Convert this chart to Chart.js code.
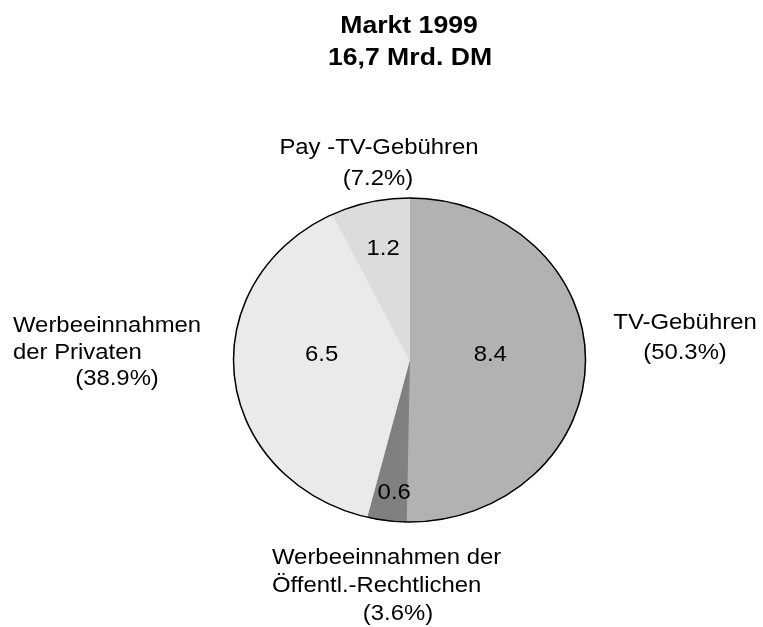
<!DOCTYPE html>
<html>
<head>
<meta charset="utf-8">
<script src="https://cdn.jsdelivr.net/npm/chart.js@4/dist/chart.umd.min.js"></script>
<style>
  html, body { margin: 0; padding: 0; background: #fff; }
  #wrap { width: 763px; height: 627px; }
</style>
</head>
<body>
<div id="wrap"><canvas id="pie"></canvas></div>
<script>
/* ── data ── */
const titleLines = ['Markt 1999', '16,7 Mrd. DM'];
const categories = [
    ['TV-Gebühren'],
    ['Werbeeinnahmen der', 'Öffentl.-Rechtlichen'],
    ['Werbeeinnahmen', 'der Privaten'],
    ['Pay -TV-Gebühren']
];
const values = [8.4, 0.6, 6.5, 1.2];
const sliceColors = ['#b2b2b2', '#808080', '#eaeaea', '#dcdcdc'];

/* ── look ── */
const SQUASH = 162 / 176;   // pie is a slightly flattened ellipse
const TEXT_SX = 1.086;      // text is stretched the same way horizontally
const FONT = '"Liberation Sans", Arial, sans-serif';

// value labels inside: radial fraction + angle nudge (deg)
const innerPos = [
    {f: 0.46, a: -4.4},
    {f: 0.825, a: -1.5},
    {f: 0.50, a: 9.6},
    {f: 0.70, a: 0.6}
];
// category labels outside
const outerPos = [
    {x: 685, y: 329, lh: 29.5, align: 'center', px: 685},
    {x: 272, y: 564, lh: 28, align: 'left', px: 398},
    {x: 13, y: 332, lh: 26.5, align: 'left', px: 117},
    {x: 379, y: 154, lh: 31, align: 'center', px: 378}
];

function stretchedText(ctx, txt, x, y, align) {
    ctx.save();
    ctx.translate(x, y);
    ctx.scale(TEXT_SX, 1);
    ctx.textAlign = align;
    ctx.fillText(txt, 0, 0);
    ctx.restore();
}

const ellipsePie = {
    id: 'ellipsePie',
    beforeDatasetsDraw(chart) {
        const a = chart.getDatasetMeta(0).data[0];
        const ctx = chart.ctx;
        ctx.save();
        ctx.translate(a.x, a.y);
        ctx.scale(1, SQUASH);
        ctx.translate(-a.x, -a.y);
    },
    afterDatasetsDraw(chart) {
        const ctx = chart.ctx;
        ctx.restore();
        const arcs = chart.getDatasetMeta(0).data;
        const cx = arcs[0].x, cy = arcs[0].y, r = arcs[0].outerRadius;

        // outline
        ctx.save();
        ctx.beginPath();
        ctx.ellipse(cx, cy, r, r * SQUASH, 0, 0, Math.PI * 2);
        ctx.strokeStyle = '#000';
        ctx.lineWidth = 1.5;
        ctx.stroke();
        ctx.restore();

        const total = values.reduce((s, v) => s + v, 0);
        ctx.save();
        ctx.fillStyle = '#000';

        // values in slices
        ctx.font = '22px ' + FONT;
        ctx.textBaseline = 'middle';
        arcs.forEach((arc, i) => {
            const p = innerPos[i];
            const mid = (arc.startAngle + arc.endAngle) / 2 + p.a * Math.PI / 180;
            const x = cx + Math.cos(mid) * r * p.f;
            const y = cy + Math.sin(mid) * r * p.f * SQUASH;
            stretchedText(ctx, values[i].toFixed(1), x, y, 'center');
        });

        // category names + share
        ctx.textBaseline = 'alphabetic';
        categories.forEach((lines, i) => {
            const p = outerPos[i];
            lines.forEach((ln, k) => stretchedText(ctx, ln, p.x, p.y + k * p.lh, p.align));
            const pct = '(' + (values[i] / total * 100).toFixed(1) + '%)';
            stretchedText(ctx, pct, p.px, p.y + lines.length * p.lh, 'center');
        });

        // title
        ctx.font = 'bold 24.5px ' + FONT;
        stretchedText(ctx, titleLines[0], 409, 33, 'center');
        stretchedText(ctx, titleLines[1], 410, 65, 'center');
        ctx.restore();
    }
};

new Chart(document.getElementById('pie'), {
    type: 'pie',
    data: {
        labels: categories,
        datasets: [{
            data: values,
            backgroundColor: sliceColors,
            borderColor: sliceColors,
            borderWidth: 1,
            hoverOffset: 0,
            radius: 176
        }]
    },
    options: {
        responsive: true,
        maintainAspectRatio: false,
        animation: false,
        events: [],
        layout: {padding: {left: 233.5, right: 177.5, top: 184, bottom: 91}},
        plugins: {
            legend: {display: false},
            tooltip: {enabled: false},
            title: {display: false}
        }
    },
    plugins: [ellipsePie]
});
</script>
</body>
</html>
